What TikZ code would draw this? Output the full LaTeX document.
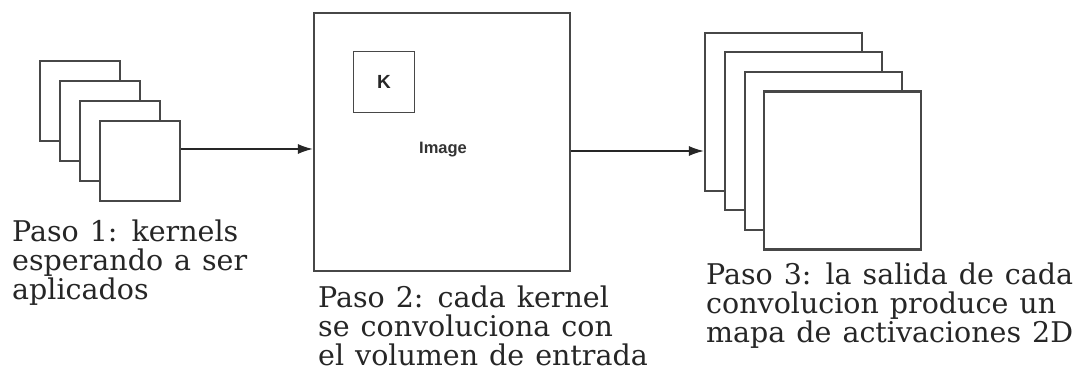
\documentclass[tikz,border=0pt]{standalone}
\usepackage{fontspec}
\setmainfont{DejaVu Serif}
\newfontfamily\labelsans{Liberation Sans}
\usetikzlibrary{arrows.meta}
\newcommand\capfont{\fontsize{28.5}{29}\selectfont\spaceskip=11pt plus 1pt\relax}
\begin{document}
\begin{tikzpicture}[x=1pt,y=-1pt,
  sheet/.style={draw=black!72,line width=2.1pt,fill=white,inner sep=0pt},
  small/.style={sheet,minimum width=80pt,minimum height=80pt},
  big/.style={sheet,minimum width=157pt,minimum height=158pt},
  link/.style={draw=black!85,line width=1.6pt,-{Latex[length=15pt,width=10pt]}},
  caption/.style={anchor=north west,inner sep=0pt,align=left,font=\capfont,text=black!85}
]
\useasboundingbox (0,0) rectangle (1086,379);
% kernels
\node[small] (k1) at (80,101) {};
\node[small] (k2) at (100,121) {};
\node[small] (k3) at (120,141) {};
\node[small] (k4) at (140,161) {};
% image
\node[sheet,minimum width=256pt,minimum height=258pt] (img) at (442,142) {};
\node[sheet,line width=1.8pt,minimum width=61pt,minimum height=61pt] (kb) at (384,82) {};
\node[inner sep=0pt,font=\labelsans\bfseries\fontsize{19}{19}\selectfont,text=black!85] (kl) at (kb.center) {K};
\node[inner sep=0pt,font=\labelsans\bfseries\fontsize{16.5}{16.5}\selectfont,text=black!80] (il) at (443,150) {Image};
% outputs
\node[big] (o1) at (783.5,112) {};
\node[big] (o2) at (803.5,131) {};
\node[big] (o3) at (823.5,151) {};
\node[big] (o4) at (842.5,170.5) {};
% arrows
\coordinate (r1) at (0,149);
\coordinate (r2) at (0,151);
\draw[link] (k4.east |- r1) -- (img.west |- r1);
\draw[link] (img.east |- r2) -- (o1.west |- r2);
% captions
\node[caption] (t1) at (12,220) {Paso 1: kernels\\esperando a ser\\aplicados};
\node[caption] (t2) at (318,286) {Paso 2: cada kernel\\se convoluciona con\\el volumen de entrada};
\node[caption] (t3) at (706,263) {Paso 3: la salida de cada\\convolucion produce un\\mapa de activaciones 2D};
\end{tikzpicture}
\end{document}
